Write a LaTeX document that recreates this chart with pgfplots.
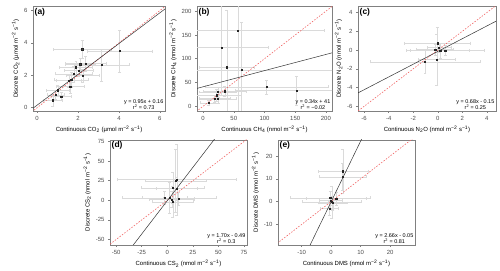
\documentclass[border=0pt]{standalone}
\usepackage{fontspec}
\setmainfont{Liberation Sans}
\usepackage{pgfplots}
\pgfplotsset{compat=1.18}
\definecolor{bordergray}{RGB}{128,128,128}
\definecolor{ebgray}{RGB}{218,218,218}
\definecolor{oneone}{RGB}{240,100,100}
\definecolor{ticklab}{RGB}{77,77,77}
\pgfplotsset{
  panel/.style={
    scale only axis,
    axis line style={bordergray, line width=0.7pt},
    tick align=outside,
    tick pos=left,
    tick style={bordergray, line width=0.5pt},
    major tick length=2bp,
    tick label style={font=\fontsize{6}{7}\selectfont, text=ticklab},
    label style={font=\fontsize{6}{7}\selectfont},
    xlabel style={yshift=2pt},
    ylabel style={yshift=-2pt},
    /pgf/number format/assume math mode=true,
    clip=true,
  },
  pts/.style={only marks, mark=square*, mark size=0.65pt,
    mark options={draw=black!85, fill=black!70},
    error bars/x dir=both, error bars/x explicit,
    error bars/y dir=both, error bars/y explicit,
    error bars/error bar style={ebgray, line width=0.45pt},
    error bars/error mark options={ebgray, rotate=90, mark size=1.5pt}},
  oneline/.style={oneone, line width=0.6pt, dash pattern=on 1.5pt off 1.5pt},
  regline/.style={black!80, line width=0.5pt},
}
\newcommand{\plab}[1]{\node[anchor=north west, font=\bfseries\fontsize{8.5}{9}\selectfont, inner sep=1.5pt] at (rel axis cs:0,1) {#1};}
\newcommand{\eqlab}[2]{\node[anchor=south east, align=center, font=\fontsize{5.5}{6.2}\selectfont, inner sep=1.5pt] at (rel axis cs:1,0) {#1\\#2};}
\newcommand{\un}{(nmol m\textsuperscript{−2} s\textsuperscript{−1})}
\begin{document}
\begin{tikzpicture}
\useasboundingbox (0,0) rectangle (500bp,271bp);
% (a)
\begin{axis}[panel, at={(33bp,160bp)}, anchor=south west, width=132bp, height=104.5bp,
  xmin=-0.2, xmax=6.25, ymin=-0.2, ymax=6.25, xtick={0,2,4,6}, ytick={0,2,4,6},
  xlabel={Continuous CO\textsubscript{2} (µmol m\textsuperscript{−2} s\textsuperscript{−1})},
  ylabel={Discrete CO\textsubscript{2} (µmol m\textsuperscript{−2} s\textsuperscript{−1})}]
\addplot[pts] table[x=x, y=y, x error=ex, y error=ey] {
x y ex ey
2.20 3.62 1.40 0.55
4.03 3.50 1.60 1.30
3.15 2.64 1.35 1.00
2.37 2.72 1.00 0.45
2.10 2.68 0.75 0.40
1.80 2.09 0.90 0.50
2.24 1.99 0.80 0.40
2.04 2.30 0.70 0.35
1.67 1.72 0.85 0.45
1.55 1.67 0.60 0.40
1.62 1.32 0.70 0.45
1.01 1.09 0.55 0.30
0.90 0.80 0.40 0.30
1.18 0.69 0.50 0.25
0.77 0.46 0.45 0.35
1.90 2.50 0.80 0.40
};
\addplot[oneline] coordinates {(-100,-100) (300,300)};
\addplot[regline] coordinates {(-1,-0.79) (7,6.81)};
\plab{(a)}
\eqlab{y = 0.95x + 0.16}{r\textsuperscript{2} = 0.73}
\end{axis}
% (b)
\begin{axis}[panel, at={(197bp,160bp)}, anchor=south west, width=135bp, height=104.5bp,
  xmin=-10, xmax=210, ymin=-10, ymax=210, xtick={0,50,100,150,200}, ytick={0,50,100,150,200},
  xlabel={Continuous CH\textsubscript{4} \un},
  ylabel={Discrete CH\textsubscript{4} \un}]
\addplot[pts] table[x=x, y=y, x error=ex, y error=ey] {
x y ex ey
56.8 159 140 200
29.8 124 76 100
38.6 82 45 120
62.3 76.6 150 100
103.6 40.8 100 15
152 33 100 30
35.3 31.6 35 10
24.3 30 30 10
22.1 23 40 12
18.8 16 25 8
24.3 15.5 30 10
9.4 7 15 5
};
\addplot[oneline] coordinates {(-100,-100) (300,300)};
\addplot[regline] coordinates {(-20,34.2) (220,115.8)};
\plab{(b)}
\eqlab{y = 0.34x + 41}{r\textsuperscript{2} = −0.02}
\end{axis}
% (c)
\begin{axis}[panel, at={(358bp,160bp)}, anchor=south west, width=138bp, height=104.5bp,
  xmin=-6.5, xmax=4.75, ymin=-6.5, ymax=4.65, xtick={-6,-4,-2,0,2,4}, ytick={-6,-4,-2,0,2,4},
  xlabel={Continuous N\textsubscript{2}O \un},
  ylabel={Discrete N\textsubscript{2}O \un}]
\addplot[pts] table[x=x, y=y, x error=ex, y error=ey] {
x y ex ey
-0.03 0.74 2.7 1.7
-0.08 -1.00 1.5 2.7
-1.04 -1.26 4.5 1.2
0.19 -0.03 2.4 0.8
0.60 -0.03 3.2 0.5
-0.22 0.07 1.5 0.6
0.10 0.25 1.0 0.5
};
\addplot[oneline] coordinates {(-100,-100) (300,300)};
\addplot[regline] coordinates {(-7,-4.91) (5,3.25)};
\plab{(c)}
\eqlab{y = 0.68x - 0.15}{r\textsuperscript{2} = 0.25}
\end{axis}
% (d)
\begin{axis}[panel, at={(110bp,26bp)}, anchor=south west, width=137bp, height=105bp,
  xmin=-56, xmax=78, ymin=-57, ymax=77, xtick={-50,-25,0,25,50,75}, ytick={-50,-25,0,25,50,75},
  xlabel={Continuous CS\textsubscript{2} \un},
  ylabel={Discrete CS\textsubscript{2} \un}]
\addplot[pts] table[x=x, y=y, x error=ex, y error=ey] {
x y ex ey
9.5 26.5 58 45
8.2 24.7 30 40
5.6 15.9 31 20
9.5 15.0 20 15
2.3 3.3 46 20
-2.6 3.3 22 8
5.6 -2.1 20 20
11.1 2.0 15 8
4.6 1.2 22 10
};
\addplot[oneline] coordinates {(-100,-100) (300,300)};
\addplot[regline] coordinates {(-40,-68.49) (50,84.51)};
\plab{(d)}
\eqlab{y = 1.70x - 0.49}{r\textsuperscript{2} = 0.3}
\end{axis}
% (e)
\begin{axis}[panel, at={(278bp,26bp)}, anchor=south west, width=137bp, height=105bp,
  xmin=-18, xmax=28.4, ymin=-19, ymax=27, xtick={-10,0,10,20}, ytick={-10,0,10,20},
  xlabel={Continuous DMS \un},
  ylabel={Discrete DMS \un}]
\addplot[pts] table[x=x, y=y, x error=ex, y error=ey] {
x y ex ey
4.0 13.3 8.5 9.8
3.85 10.8 8 6
1.7 1.3 10 3
-0.34 1.6 13.6 3
0.23 -0.15 10 7
0.6 -0.6 5 3
-0.57 -3 3 3
-0.2 0.5 4 4
};
\addplot[oneline] coordinates {(-100,-100) (300,300)};
\addplot[regline] coordinates {(-8,-21.33) (12,31.87)};
\plab{(e)}
\eqlab{y = 2.66x - 0.05}{r\textsuperscript{2} = 0.81}
\end{axis}
\end{tikzpicture}
\end{document}
